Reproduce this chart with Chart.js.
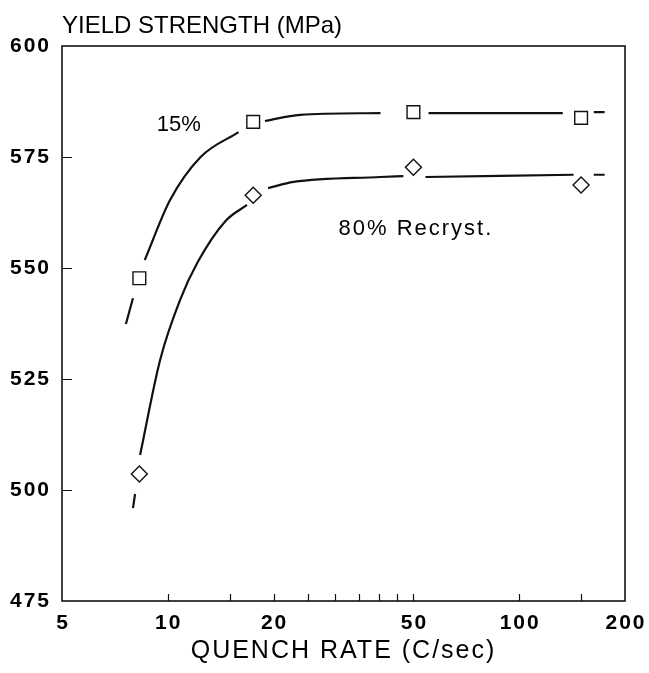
<!DOCTYPE html>
<html>
<head>
<meta charset="utf-8">
<script src="https://cdn.jsdelivr.net/npm/chart.js@4.4.1/dist/chart.umd.min.js"></script>
<style>
  html, body { margin: 0; padding: 0; background: #fff; }
  #wrap { width: 649px; height: 673px; }
</style>
</head>
<body>
<div id="wrap"><canvas id="ysChart" width="649" height="673"></canvas></div>
<script>
// measured points (quench rate C/sec -> yield strength MPa)
const quenchRates = [8.3, 17.5, 50, 150];
const ys15 = [547.7, 582.9, 585.1, 583.8];
const ys80 = [503.6, 566.4, 572.7, 568.7];

// hand drawn fit curves, null = break in the line around a marker
const curve15X = [7.6, 7.96, 8.3, 8.6, 10.15, 12.4, 15.9, 17.5, 18.9, 23.8, 40.3, 50, 55.2, 133, 150, 163, 175];
const curve15Y = [537.4, 543.2, null, 551.8, 565.3, 575, 580.6, null, 583.1, 584.5, 584.9, null, 584.9, 584.9, null, 585.1, 585.1];
const curve80X = [7.96, 8.07, 8.3, 8.34, 9.51, 10.84, 12.2, 14.6, 16.8, 17.6, 19.3, 22.8, 40.3, 46.8, 50, 54.1, 142.8, 150, 163, 175];
const curve80Y = [495.9, 499.1, null, 507.9, 529.3, 542.8, 551.5, 560.6, 564.2, null, 568, 569.4, 570.5, 570.7, null, 570.5, 571, null, 571, 571];

// axis ticks
const xMinorTicks = [10, 15, 20, 25, 30, 35, 40, 45, 50, 100, 150];
const xTickLabels = [5, 10, 20, 50, 100, 200];
const yTickVals = [475, 500, 525, 550, 575, 600];

const FONT = '"Liberation Sans", Arial, sans-serif';

const toPts = (xs, ys) => xs.map((x, i) => ({ x: x, y: ys[i] }));

// frame, inward ticks, x tick labels and the text labels
const framePlugin = {
  id: "frame",
  beforeDraw(chart) {
    chart.ctx.letterSpacing = "2px";
  },
  afterDraw(chart) {
    const { ctx, chartArea: a, scales: { x, y } } = chart;
    ctx.save();
    ctx.strokeStyle = "#111";
    ctx.lineWidth = 1.6;
    ctx.strokeRect(a.left, a.top, a.right - a.left, a.bottom - a.top);

    ctx.beginPath();
    ctx.lineWidth = 1.2;
    xMinorTicks.forEach(v => {
      const px = Math.round(x.getPixelForValue(v)) + 0.5;
      ctx.moveTo(px, a.bottom);
      ctx.lineTo(px, a.bottom - 7);
    });
    yTickVals.slice(1, -1).forEach(v => {
      const py = Math.round(y.getPixelForValue(v)) + 0.5;
      ctx.moveTo(a.left, py);
      ctx.lineTo(a.left + 10, py);
    });
    ctx.stroke();

    ctx.fillStyle = "#000";
    ctx.font = "bold 21px " + FONT;
    ctx.letterSpacing = "2px";
    ctx.textAlign = "center";
    ctx.textBaseline = "middle";
    xTickLabels.forEach(v => {
      ctx.fillText(String(v), x.getPixelForValue(v) + 1, a.bottom + 22);
    });

    ctx.textAlign = "left";
    ctx.textBaseline = "alphabetic";
    ctx.font = "24px " + FONT;
    ctx.letterSpacing = "0px";
    ctx.fillText("YIELD STRENGTH (MPa)", a.left, 33);

    ctx.font = "22px " + FONT;
    ctx.fillText("15%", x.getPixelForValue(9.3), y.getPixelForValue(580.9));
    ctx.letterSpacing = "2px";
    ctx.fillText("80% Recryst.", x.getPixelForValue(30.6), y.getPixelForValue(557.4));
    ctx.restore();
  }
};

new Chart(document.getElementById("ysChart"), {
  type: "scatter",
  data: {
    datasets: [
      {
        label: "15% fit",
        data: toPts(curve15X, curve15Y),
        showLine: true,
        spanGaps: false,
        cubicInterpolationMode: "monotone",
        borderColor: "#111",
        borderWidth: 2.2,
        pointRadius: 0
      },
      {
        label: "80% fit",
        data: toPts(curve80X, curve80Y),
        showLine: true,
        spanGaps: false,
        cubicInterpolationMode: "monotone",
        borderColor: "#111",
        borderWidth: 2.2,
        pointRadius: 0
      },
      {
        label: "15%",
        data: toPts(quenchRates, ys15),
        pointStyle: "rect",
        pointRadius: 9,
        pointBorderWidth: 1.4,
        pointBorderColor: "#111",
        pointBackgroundColor: "#fff"
      },
      {
        label: "80% Recryst.",
        data: toPts(quenchRates, ys80),
        pointStyle: "rectRot",
        pointRadius: 8,
        pointBorderWidth: 1.4,
        pointBorderColor: "#111",
        pointBackgroundColor: "#fff"
      }
    ]
  },
  options: {
    responsive: false,
    animation: false,
    layout: { padding: { left: 0, right: 24, top: 46, bottom: 0 } },
    plugins: {
      legend: { display: false },
      tooltip: { enabled: false }
    },
    scales: {
      x: {
        type: "logarithmic",
        min: 5,
        max: 200,
        afterFit: scale => { scale.height = 72; },
        grid: { display: false },
        border: { display: false },
        ticks: { display: false },
        title: {
          display: true,
          text: "QUENCH RATE (C/sec)",
          color: "#000",
          font: { family: FONT, size: 25 },
          padding: { top: 0, bottom: 7 }
        }
      },
      y: {
        min: 475,
        max: 600,
        afterBuildTicks: scale => {
          scale.ticks = yTickVals.map(v => ({ value: v }));
        },
        afterFit: scale => { scale.width = 62; },
        grid: { display: false },
        border: { display: false },
        ticks: {
          padding: 3,
          color: "#000",
          font: { family: FONT, size: 21, weight: "bold" }
        }
      }
    }
  },
  plugins: [framePlugin]
});
</script>
</body>
</html>
